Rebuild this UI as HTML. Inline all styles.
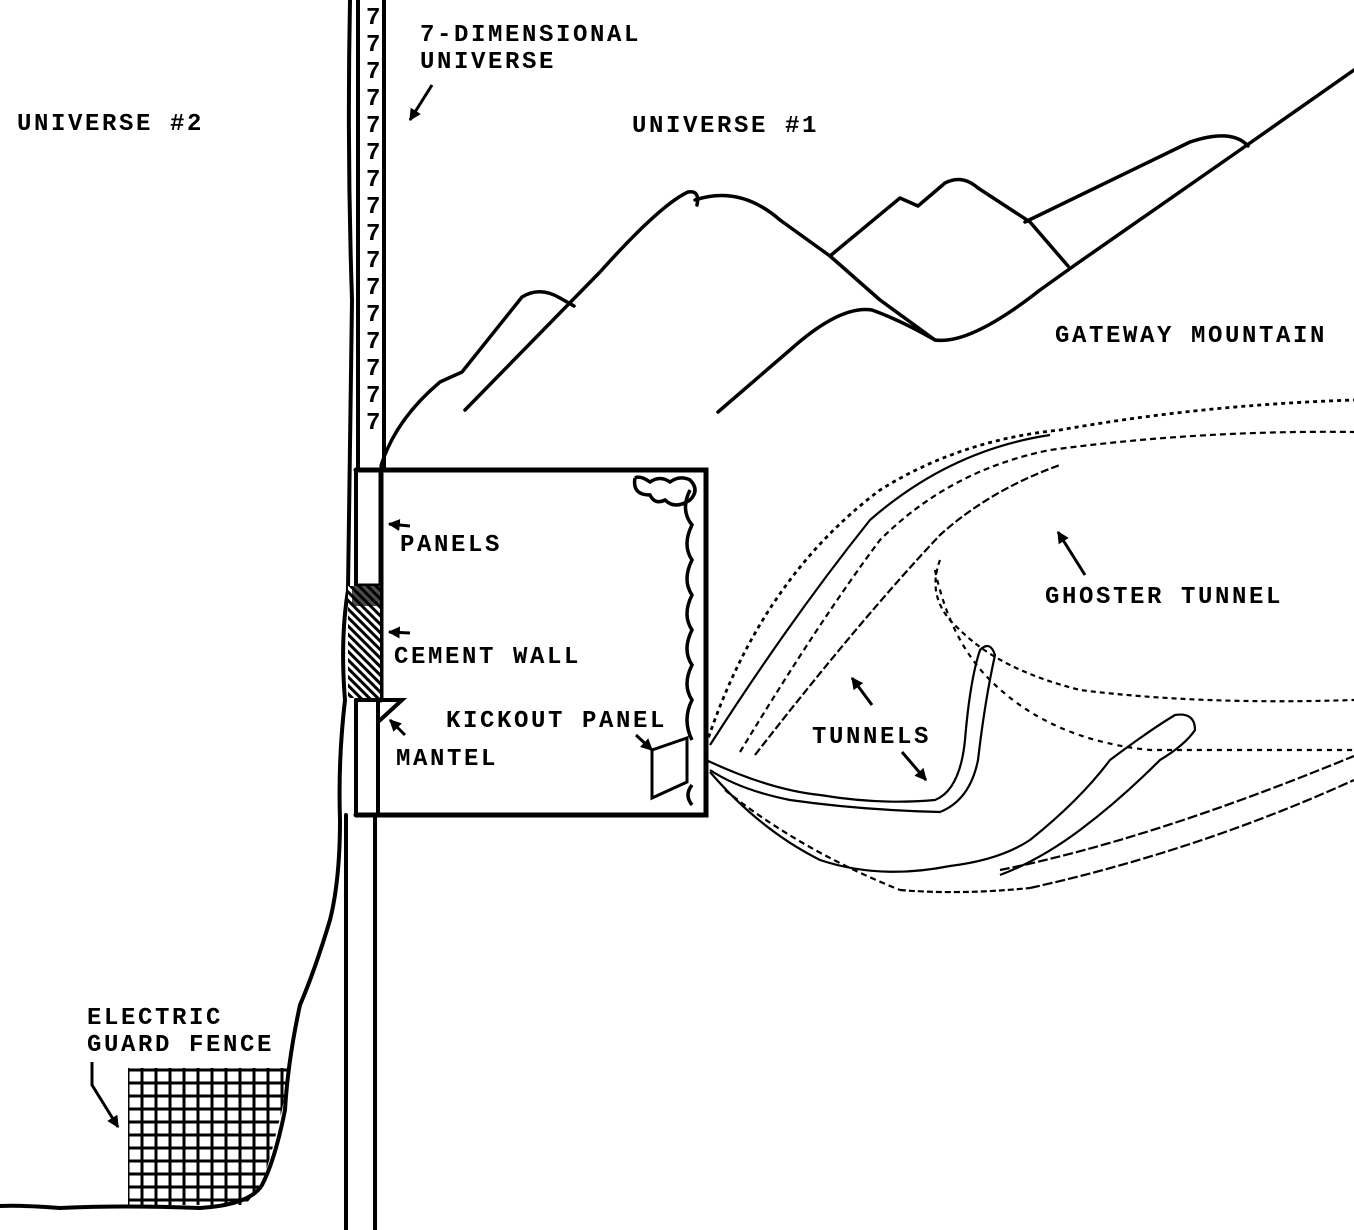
<!DOCTYPE html>
<html><head><meta charset="utf-8"><style>
html,body{margin:0;padding:0;background:#fff}
svg{display:block}
text{font-family:"Liberation Mono","DejaVu Sans Mono",monospace;font-weight:bold;font-size:24px;fill:#000;letter-spacing:2.6px}
</style></head><body>
<svg width="1354" height="1230" viewBox="0 0 1354 1230" xmlns="http://www.w3.org/2000/svg">
<defs>
<marker id="ah" viewBox="0 0 10 10" refX="9" refY="5" markerWidth="4" markerHeight="4" orient="auto"><path d="M0,0 L10,5 L0,10 z" fill="#000"/></marker>
<clipPath id="fc"><path d="M128,1068 L290,1068 L282,1110 L272,1150 L262,1185 L245,1205 L128,1205 Z"/></clipPath>
<pattern id="hatch" width="6" height="6" patternUnits="userSpaceOnUse" patternTransform="rotate(-45)"><rect width="6" height="6" fill="#fff"/><rect width="3" height="6" fill="#000"/></pattern>
</defs>

<g stroke="#000" fill="none" stroke-linecap="round">
<path d="M350,0 Q347,150 352,300 Q350,450 348,590 Q340,640 345,700 Q338,760 340,820 Q340,880 330,920 Q315,970 300,1005 Q288,1060 285,1110 Q275,1160 262,1185 Q250,1205 200,1208 Q120,1205 60,1208 Q20,1205 0,1206" stroke-width="4"/>
<path d="M358,0 L358,470 M356,470 L356,585 M356,700 L356,815 M346,815 L346,1230" stroke-width="4"/>
<path d="M384,0 L384,470 M375,815 L375,1230" stroke-width="4"/>
<path d="M381,470 L706,470 L706,815 L356,815 M381,470 L381,700 M356,470 L381,470" stroke-width="5"/>
<path d="M378,700 L378,815" stroke-width="4"/>
<path d="M356,700 L402,700 L378,722" stroke-width="4"/>
<path d="M356,585 L381,585" stroke-width="3"/>
</g>
<rect x="348" y="586" width="32" height="112" fill="url(#hatch)"/>
<rect x="352" y="586" width="28" height="20" fill="#000" opacity="0.7"/>

<g style="letter-spacing:0;font-size:23px">
<text x="366" y="24">7</text><text x="366" y="51">7</text><text x="366" y="78">7</text><text x="366" y="105">7</text><text x="366" y="132">7</text><text x="366" y="159">7</text><text x="366" y="186">7</text><text x="366" y="213">7</text><text x="366" y="240">7</text><text x="366" y="267">7</text><text x="366" y="294">7</text><text x="366" y="321">7</text><text x="366" y="348">7</text><text x="366" y="375">7</text><text x="366" y="402">7</text><text x="366" y="429">7</text>
</g>

<g stroke="#000" fill="none" stroke-width="3.5">
<path d="M690,490 Q680,510 692,525 Q682,545 692,560 Q682,580 692,595 Q682,615 692,630 Q682,650 692,665 Q682,685 692,700 Q682,720 692,740"/>
<path d="M692,785 Q684,795 692,805"/>
<path d="M635,478 Q632,495 650,495 Q655,505 665,500 Q675,510 690,500 Q700,490 690,480 Q680,475 670,482 Q660,475 650,482 Q640,475 635,478"/>
<path d="M652,750 L687,738 L687,782 L652,798 Z" stroke-width="3"/>
</g>

<g stroke="#000" fill="none" stroke-width="3.5" stroke-linecap="round" stroke-linejoin="round">
<path d="M381,466 Q395,420 440,382 L462,372 L522,297 Q540,286 560,298 L574,306"/>
<path d="M465,410 L600,272 Q660,205 688,192 Q700,190 697,205"/>
<path d="M695,200 Q740,185 780,220 L830,256 L880,300 L935,340"/>
<path d="M830,256 L900,198 L918,206 L945,183 Q962,174 978,188 L1030,222 L1068,266"/>
<path d="M718,412 L790,350 Q840,305 872,310 Q900,320 935,340 Q970,345 1040,290 L1075,265 L1240,150 L1354,70"/>
<path d="M1025,222 L1190,142 Q1232,128 1248,146"/>
</g>

<g stroke="#000" fill="none" stroke-width="2.2">
<path d="M706,745 Q760,580 880,490 Q960,440 1060,430 Q1200,405 1354,400" stroke-dasharray="4,4" stroke-width="2.8"/>
<path d="M710,745 Q790,620 870,520 Q950,450 1050,435" />
<path d="M740,752 Q820,620 880,540 Q950,470 1050,450 Q1200,430 1354,432" stroke-dasharray="6,4"/>
<path d="M755,755 Q860,620 940,535 Q990,490 1060,465" stroke-dasharray="8,3"/>
<path d="M940,560 Q925,600 960,630 Q1000,670 1080,690 Q1200,705 1354,700" stroke-dasharray="5,4"/>
<path d="M935,570 Q950,640 990,680 Q1050,740 1150,750 Q1250,750 1354,750" stroke-dasharray="5,5"/>
<path d="M706,760 Q770,790 820,795 Q880,805 935,800 Q960,790 965,740 Q970,680 980,650 Q990,640 995,655 Q985,700 978,760 Q970,800 940,812 Q860,810 790,800 Q740,790 710,770"/>
<path d="M710,772 Q760,830 820,860 Q880,880 950,866 Q1000,860 1030,840 Q1080,800 1110,760 Q1150,730 1175,715 Q1195,712 1195,730 Q1185,745 1160,760 Q1120,800 1080,830 Q1040,860 1000,875"/>
<path d="M1000,870 Q1150,840 1354,756" stroke-dasharray="10,3"/>
<path d="M1030,888 Q1200,850 1354,780" stroke-dasharray="10,3"/>
<path d="M900,890 Q960,895 1030,888" stroke-dasharray="6,3"/>
<path d="M725,790 Q800,850 900,890" stroke-dasharray="6,4"/>
</g>

<g clip-path="url(#fc)" stroke="#000" stroke-width="3">
<path d="M128,1068V1210M142,1068V1210M156,1068V1210M170,1068V1210M184,1068V1210M198,1068V1210M212,1068V1210M226,1068V1210M240,1068V1210M254,1068V1210M268,1068V1210M282,1068V1210"/>
<path d="M120,1070H300M120,1083H300M120,1096H300M120,1109H300M120,1122H300M120,1135H300M120,1148H300M120,1161H300M120,1174H300M120,1187H300M120,1200H300"/>
</g>

<g stroke="#000" stroke-width="3" fill="none" marker-end="url(#ah)">
<path d="M432,85 L410,120"/>
<path d="M410,526 L389,524"/>
<path d="M410,633 L389,632"/>
<path d="M405,735 L390,720"/>
<path d="M636,735 L652,750"/>
<path d="M872,705 L852,678"/>
<path d="M902,752 L926,780"/>
<path d="M1085,575 L1058,532"/>
<path d="M92,1062 L92,1085 L118,1127"/>
</g>

<text x="17" y="130">UNIVERSE #2</text>
<text x="420" y="41">7-DIMENSIONAL</text>
<text x="420" y="68">UNIVERSE</text>
<text x="632" y="132">UNIVERSE #1</text>
<text x="1055" y="342">GATEWAY MOUNTAIN</text>
<text x="400" y="551">PANELS</text>
<text x="394" y="663">CEMENT WALL</text>
<text x="446" y="727">KICKOUT PANEL</text>
<text x="396" y="765">MANTEL</text>
<text x="812" y="743">TUNNELS</text>
<text x="1045" y="603">GHOSTER TUNNEL</text>
<text x="87" y="1024">ELECTRIC</text>
<text x="87" y="1051">GUARD FENCE</text>
</svg>
</body></html>
